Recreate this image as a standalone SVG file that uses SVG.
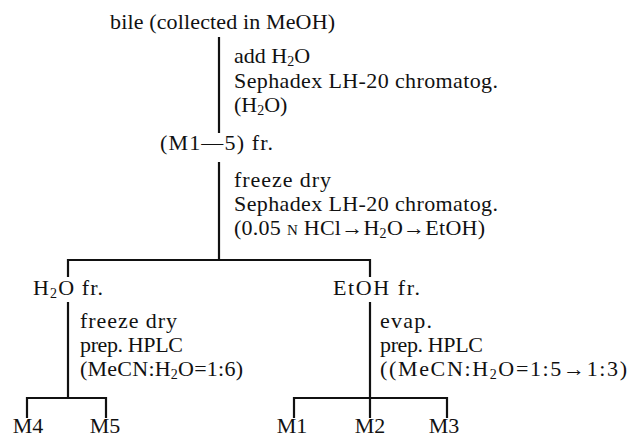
<svg xmlns="http://www.w3.org/2000/svg" width="633" height="437" viewBox="0 0 633 437">
<style>
  text { font-family: "Liberation Serif", "Times New Roman", serif; font-size: 22px; fill: #111; }
  .sub { font-size: 14px; }
  .sc { font-size: 15px; }
  .m { text-anchor: middle; }
  #connectors line { stroke: #111; stroke-width: 2.2; stroke-linecap: butt; }
</style>
<rect width="633" height="437" fill="#fff"/>
<g id="connectors">
  <line x1="219" y1="37" x2="219" y2="133"/>
  <line x1="219" y1="162" x2="219" y2="260"/>
  <line x1="67" y1="260" x2="371" y2="260"/>
  <line x1="68" y1="259" x2="68" y2="277"/>
  <line x1="370" y1="259" x2="370" y2="277"/>
  <line x1="68" y1="302" x2="68" y2="398"/>
  <line x1="26" y1="398" x2="107" y2="398"/>
  <line x1="27" y1="397" x2="27" y2="418"/>
  <line x1="106" y1="397" x2="106" y2="418"/>
  <line x1="370" y1="302" x2="370" y2="398"/>
  <line x1="293" y1="398" x2="448" y2="398"/>
  <line x1="294" y1="397" x2="294" y2="418"/>
  <line x1="370" y1="397" x2="370" y2="418"/>
  <line x1="447" y1="397" x2="447" y2="418"/>
</g>
<g id="node-bile">
  <text x="110" y="29" textLength="225" lengthAdjust="spacing">bile (collected in MeOH)</text>
</g>
<g id="step-1">
  <text x="234" y="63">add H<tspan class="sub" dy="3">2</tspan><tspan dy="-3">O</tspan></text>
  <text x="234" y="88" textLength="264" lengthAdjust="spacing">Sephadex LH-20 chromatog.</text>
  <text x="234" y="112">(H<tspan class="sub" dy="3">2</tspan><tspan dy="-3">O)</tspan></text>
</g>
<g id="node-m1-5">
  <text x="160" y="150" textLength="113" lengthAdjust="spacing">(M1—5) fr.</text>
</g>
<g id="step-2">
  <text x="234" y="187" textLength="97" lengthAdjust="spacing">freeze dry</text>
  <text x="234" y="211" textLength="264" lengthAdjust="spacing">Sephadex LH-20 chromatog.</text>
  <text x="234" y="235" textLength="251" lengthAdjust="spacing">(0.05 <tspan class="sc">N</tspan> HCl→H<tspan class="sub" dy="3">2</tspan><tspan dy="-3">O→EtOH)</tspan></text>
</g>
<g id="node-h2o">
  <text x="33" y="295" textLength="70" lengthAdjust="spacing">H<tspan class="sub" dy="3">2</tspan><tspan dy="-3">O fr.</tspan></text>
</g>
<g id="node-etoh">
  <text x="333" y="295" textLength="87" lengthAdjust="spacing">EtOH fr.</text>
</g>
<g id="step-3a">
  <text x="80" y="328" textLength="97" lengthAdjust="spacing">freeze dry</text>
  <text x="80" y="352" textLength="103" lengthAdjust="spacing">prep. HPLC</text>
  <text x="80" y="376" textLength="163" lengthAdjust="spacing">(MeCN:H<tspan class="sub" dy="3">2</tspan><tspan dy="-3">O=1:6)</tspan></text>
</g>
<g id="step-3b">
  <text x="380" y="328" textLength="52" lengthAdjust="spacing">evap.</text>
  <text x="380" y="352" textLength="103" lengthAdjust="spacing">prep. HPLC</text>
  <text x="380" y="376" textLength="247" lengthAdjust="spacing">((MeCN:H<tspan class="sub" dy="3">2</tspan><tspan dy="-3">O=1:5→1:3)</tspan></text>
</g>
<g id="node-m4"><text class="m" x="28" y="433">M4</text></g>
<g id="node-m5"><text class="m" x="105" y="433">M5</text></g>
<g id="node-m1"><text class="m" x="292" y="433">M1</text></g>
<g id="node-m2"><text class="m" x="370" y="433">M2</text></g>
<g id="node-m3"><text class="m" x="444" y="433">M3</text></g>
</svg>
